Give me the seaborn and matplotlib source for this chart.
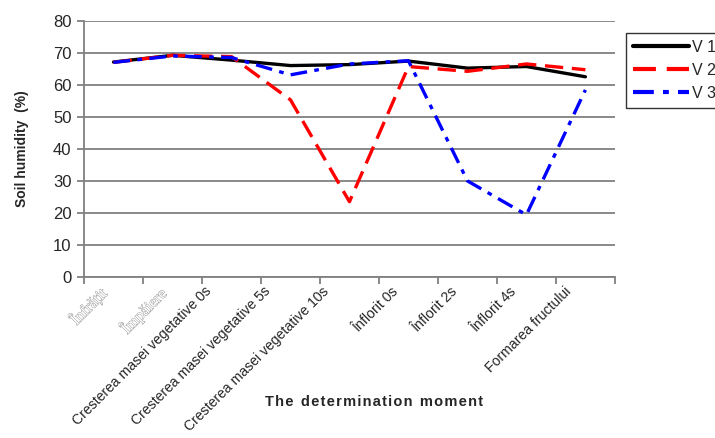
import numpy as np
import pandas as pd
import matplotlib
matplotlib.use("Agg")
import matplotlib.pyplot as plt
import matplotlib.patheffects as pe
import matplotlib.transforms as mtransforms
from matplotlib.ticker import FixedLocator
import seaborn as sns

categories = ["Înfrățit", "Împăiere", "Cresterea masei vegetative 0s",
              "Cresterea masei vegetative 5s", "Cresterea masei vegetative 10s",
              "Înflorit 0s", "Înflorit 2s", "Înflorit 4s", "Formarea fructului"]
v1 = [67.1, 69.2, 67.7, 66.0, 66.3, 67.4, 65.2, 65.7, 62.5]
v2 = [67.0, 69.2, 68.8, 55.3, 23.5, 65.7, 64.2, 66.5, 64.7]
v3 = [67.0, 69.0, 68.5, 63.1, 66.5, 67.5, 30.0, 19.4, 58.4]
series_names = ["V 1", "V 2", "V 3"]

df = pd.DataFrame({
    "moment": categories * 3,
    "value": v1 + v2 + v3,
    "series": [series_names[0]] * 9 + [series_names[1]] * 9 + [series_names[2]] * 9,
})

sns.set_style("white")
plt.rcParams["font.family"] = ["Liberation Sans", "DejaVu Sans"]

fig = plt.figure(figsize=(7.15, 4.38), dpi=100)
ax = fig.add_axes([0.1175, 0.3676, 0.7425, 0.5851])

palette = {"V 1": "black", "V 2": "#ff0000", "V 3": "#0000ff"}
dashes = {"V 1": "", "V 2": (5.5, 2.6), "V 3": (5.0, 2.2, 1.4, 2.2)}
sns.lineplot(data=df, x="moment", y="value", hue="series", style="series",
             palette=palette, dashes=dashes, linewidth=2.4, ax=ax,
             sort=False, legend=True)

ax.set_ylim(0, 80)
ax.set_xlim(-0.5, len(categories) - 0.5)
ax.set_yticks(np.arange(0, 81, 10))
ax.yaxis.grid(True, color="#808080", linewidth=1.3)
ax.set_axisbelow(True)
for s in ["top", "right"]:
    ax.spines[s].set_visible(False)
for s in ["left", "bottom"]:
    ax.spines[s].set_color("#808080")
    ax.spines[s].set_linewidth(1.3)

ax.tick_params(axis="y", which="major", length=5, width=1.3, color="#808080",
               direction="out", labelsize=12, left=True, pad=4)
ax.set_xticks(np.arange(len(categories)))
ax.tick_params(axis="x", which="major", length=0, pad=6)
ax.xaxis.set_minor_locator(FixedLocator(np.arange(-0.5, len(categories), 1.0)))
ax.tick_params(axis="x", which="minor", length=5, width=1.3, color="#808080",
               direction="out", bottom=True)

ax.set_xticklabels(categories, rotation=45, ha="right", rotation_mode="anchor",
                   fontsize=10.1)
for i, lab in enumerate(ax.get_xticklabels()):
    shift_px = -(11 + 0.55 * len(lab.get_text()))
    offset = mtransforms.ScaledTranslation(shift_px / 100, 1 / 100, fig.dpi_scale_trans)
    lab.set_transform(lab.get_transform() + offset)
    if i < 2:
        lab.set_fontfamily(["Liberation Serif", "DejaVu Serif"])
        lab.set_color("white")
        lab.set_path_effects([pe.withStroke(linewidth=0.7, foreground="#a0a0a0")])
        lab.set_fontsize(11.5)

ax.set_ylabel("Soil humidity  (%)", fontsize=10, fontweight="bold", labelpad=17)
ax.set_xlabel("T h e  d e t e r m i n a t i o n  m o m e n t".replace("  ", "\u2002").replace(" ", "\u200a"),
              fontsize=10.5, fontweight="bold")
ax.xaxis.set_label_coords(0.547, -0.462)

h, l = ax.get_legend_handles_labels()
ax.get_legend().remove()
leg = fig.legend(h, l, loc="upper left", bbox_to_anchor=(0.8755, 0.925),
                 frameon=True, fancybox=False, fontsize=11.5, handlelength=3.5,
                 labelspacing=0.5, borderpad=0.45, handletextpad=0.2,
                 borderaxespad=0)
leg.get_frame().set_edgecolor("black")
leg.get_frame().set_linewidth(1.0)
for line in leg.get_lines():
    line.set_linewidth(3)

fig.savefig("out.png", dpi=100)
